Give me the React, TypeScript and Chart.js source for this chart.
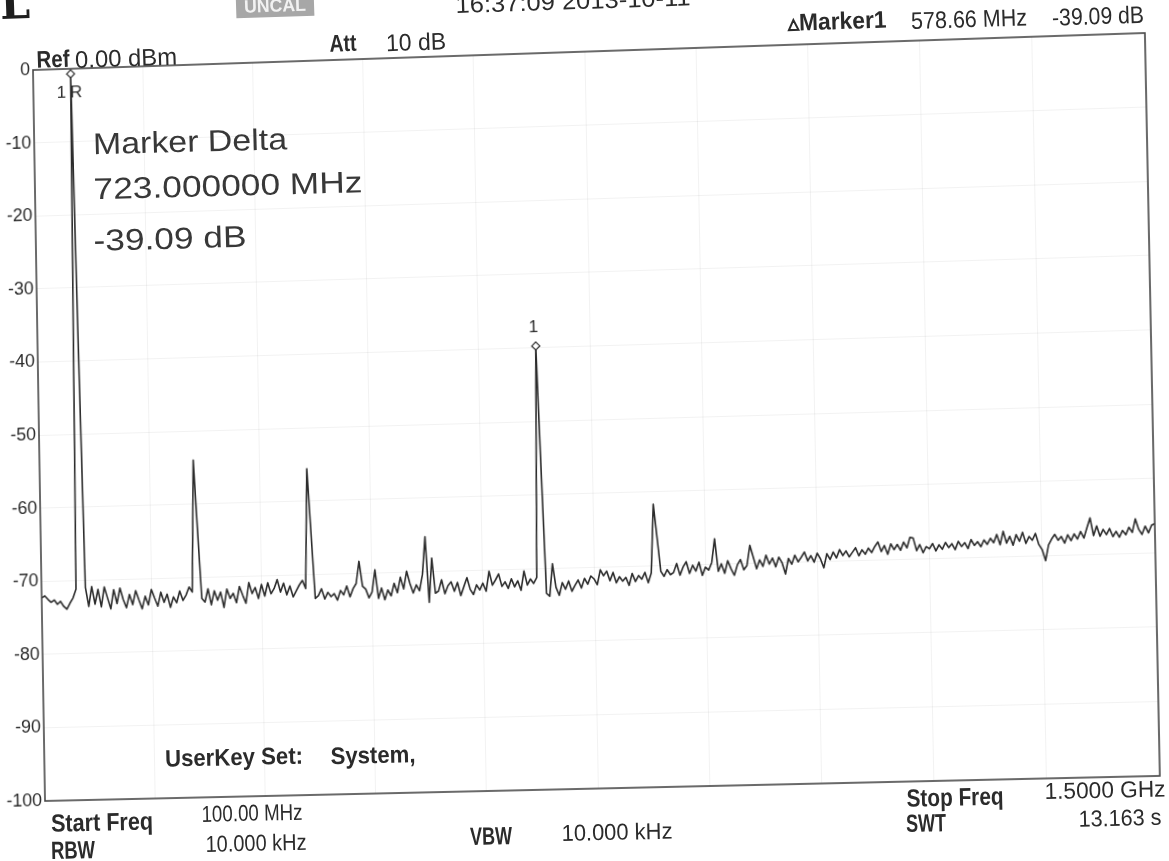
import React, { useEffect, useRef } from 'react';
import { Chart, registerables } from 'chart.js';

Chart.register(...registerables);

// ---- Data ----
const FREQ_START_MHZ = 100;
const FREQ_STOP_MHZ = 1500;
const FREQ_STEP_MHZ = 4;

// Trace level in dBm, one value every 4 MHz from 100 MHz to 1500 MHz
const TRACE_DBM = [
  // 100 – 196 MHz
  -72.3, -72.0, -72.5, -72.9, -72.6, -73.2, -72.8, -73.5, -73.9, -73.1,
  -72.4, -71.2, -0.7, -37.6, -71.0, -73.6, -70.9, -73.3, -71.3, -73.7,
  -71.0, -72.5, -74.0, -71.4, -73.3,
  // 200 – 296 MHz
  -71.2, -72.8, -73.9, -72.1, -73.5, -71.6, -72.9, -74.1, -72.4, -73.6,
  -71.5, -72.7, -73.8, -71.9, -73.3, -72.2, -74.0, -72.6, -73.4, -71.8,
  -73.1, -72.4, -71.3, -72.0, -54.0,
  // 300 – 396 MHz
  -63.6, -72.9, -73.4, -71.6, -73.8, -71.9, -73.2, -72.1, -74.2, -71.7,
  -73.0, -72.3, -73.6, -71.4, -72.6, -73.7, -70.9, -72.4, -71.6, -73.1,
  -71.2, -72.8, -71.0, -72.5, -71.8,
  // 400 – 496 MHz
  -70.6, -72.3, -71.1, -72.7, -71.5, -73.0, -72.2, -71.4, -70.8, -71.9,
  -55.6, -64.5, -73.3, -72.9, -72.0, -73.4, -72.5, -73.1, -72.7, -73.6,
  -72.3, -72.9, -71.7, -73.2, -72.1,
  // 500 – 596 MHz
  -71.4, -68.4, -71.8, -72.2, -73.4, -72.6, -69.6, -73.5, -72.1, -73.7,
  -72.4, -73.2, -71.5, -72.8, -70.7, -72.3, -69.9, -71.6, -72.9, -71.8,
  -72.6, -70.4, -65.3, -74.2, -68.2,
  // 600 – 696 MHz
  -73.0, -72.7, -71.2, -73.1, -72.0, -71.5, -72.8, -71.6, -73.4, -72.2,
  -71.0, -72.6, -73.3, -72.0, -72.7, -71.8, -72.9, -70.2, -72.1, -71.4,
  -70.6, -72.3, -71.7, -72.6, -71.3,
  // 700 – 796 MHz
  -72.4, -71.6, -72.9, -70.3, -72.2, -71.4, -72.0, -71.2, -39.8, -57.0,
  -73.4, -73.8, -69.4, -72.6, -73.7, -72.0, -72.9, -71.8, -73.2, -72.4,
  -71.7, -72.8, -71.5, -72.3, -71.2,
  // 800 – 896 MHz
  -71.6, -72.4, -70.4, -71.2, -70.6, -71.9, -70.8, -72.2, -71.4, -72.0,
  -71.5, -72.6, -71.0, -72.1, -71.3, -71.8, -70.9, -72.3, -71.0, -61.7,
  -66.2, -70.8, -71.5, -70.6, -71.3,
  // 900 – 996 MHz
  -71.0, -69.8, -71.4, -70.3, -69.6, -71.2, -70.1, -70.9, -69.7, -71.5,
  -70.4, -70.8, -69.8, -66.6, -71.0, -70.0, -71.3, -69.6, -70.7, -71.6,
  -70.2, -69.5, -70.9, -70.3, -67.6,
  // 1000 – 1096 MHz
  -69.2, -70.8, -69.6, -70.5, -69.0, -70.2, -69.4, -70.6, -69.3, -70.1,
  -71.6, -69.5, -70.3, -69.1, -70.0, -69.4, -68.7, -69.9, -69.2, -70.1,
  -68.9, -69.7, -70.9, -69.0, -69.8,
  // 1100 – 1196 MHz
  -68.8, -69.6, -68.5, -69.3, -68.7, -69.5, -68.9, -68.3, -69.4, -68.6,
  -69.2, -68.4, -69.0, -68.2, -67.6, -68.9, -68.1, -69.3, -67.9, -68.7,
  -68.0, -68.8, -67.7, -68.5, -67.1,
  // 1200 – 1296 MHz
  -67.2, -68.9, -68.1, -69.2, -68.4, -68.7, -68.0, -69.0, -68.2, -68.8,
  -67.9, -68.6, -68.1, -68.9, -67.8, -68.5, -68.0, -68.8, -67.6, -68.4,
  -67.9, -68.6, -67.7, -68.3, -67.5,
  // 1300 – 1396 MHz
  -68.1, -67.0, -68.4, -66.6, -68.2, -67.3, -68.5, -67.1, -68.0, -66.8,
  -68.3, -67.4, -67.9, -67.0, -68.5, -69.2, -70.7, -68.6, -67.8, -67.2,
  -68.0, -67.5, -68.4, -67.3, -68.1,
  // 1400 – 1500 MHz
  -67.2, -67.9, -66.9, -67.8, -66.4, -65.1, -67.5, -66.2, -67.6, -66.7,
  -67.4, -66.6, -67.7, -67.0, -67.8, -66.9, -67.5, -66.5, -67.2, -65.4,
  -66.8, -67.5, -66.4, -67.3, -66.3, -66.1,
];

// Markers (frequency in MHz) and their names
const MARKER_FREQ_MHZ = [148, 732];
const MARKER_NAMES = ['1R', '1'];

// Axis ticks
const Y_TICKS = [0, -10, -20, -30, -40, -50, -60, -70, -80, -90, -100];
const Y_TICK_LABELS = ['0', '-10', '-20', '-30', '-40', '-50', '-60', '-70', '-80', '-90', '-100'];
const X_GRID_MHZ = [100, 240, 380, 520, 660, 800, 940, 1080, 1220, 1360, 1500];

const MARKER_LEVEL_DBM = MARKER_FREQ_MHZ.map(
  (f) => TRACE_DBM[Math.round((f - FREQ_START_MHZ) / FREQ_STEP_MHZ)]
);

// ---- Layout: the printout was scanned slightly skewed ----
const W = 1169;
const H = 861;
const CW = 1230; // canvas (local, before the skew)
const CH = 900;
const Y_AXIS_W = 40;
const AREA = { left: 70, top: 70, right: 1182, bottom: 806 };
// where the plot frame's corners sit in the scan (TL, TR, BL, BR)
const SCAN_CORNERS: [number, number][] = [
  [33, 70],
  [1145, 33],
  [45, 801],
  [1160, 776],
];

function homography(src: [number, number][], dst: [number, number][]) {
  const A: number[][] = [];
  const b: number[] = [];
  for (let i = 0; i < 4; i++) {
    const [x, y] = src[i];
    const [X, Y] = dst[i];
    A.push([x, y, 1, 0, 0, 0, -x * X, -y * X]);
    b.push(X);
    A.push([0, 0, 0, x, y, 1, -x * Y, -y * Y]);
    b.push(Y);
  }
  const n = 8;
  for (let c = 0; c < n; c++) {
    let p = c;
    for (let r = c + 1; r < n; r++) if (Math.abs(A[r][c]) > Math.abs(A[p][c])) p = r;
    [A[c], A[p]] = [A[p], A[c]];
    [b[c], b[p]] = [b[p], b[c]];
    for (let r = c + 1; r < n; r++) {
      const f = A[r][c] / A[c][c];
      for (let k = c; k < n; k++) A[r][k] -= f * A[c][k];
      b[r] -= f * b[c];
    }
  }
  const h = new Array(n).fill(0);
  for (let r = n - 1; r >= 0; r--) {
    let s = b[r];
    for (let k = r + 1; k < n; k++) s -= A[r][k] * h[k];
    h[r] = s / A[r][r];
  }
  return `matrix3d(${h[0]}, ${h[3]}, 0, ${h[6]}, ${h[1]}, ${h[4]}, 0, ${h[7]}, 0, 0, 1, 0, ${h[2]}, ${h[5]}, 0, 1)`;
}

const SKEW = homography(
  [
    [AREA.left, AREA.top],
    [AREA.right, AREA.top],
    [AREA.left, AREA.bottom],
    [AREA.right, AREA.bottom],
  ],
  SCAN_CORNERS
);

const SANS = '"Liberation Sans", Arial, sans-serif';
const INK = '#2b2b2b';

let measureCtx: CanvasRenderingContext2D | null = null;
function textWidth(text: string, font: string) {
  if (!measureCtx) measureCtx = document.createElement('canvas').getContext('2d');
  if (!measureCtx) return 1;
  measureCtx.font = font;
  return measureCtx.measureText(text).width || 1;
}

type FitProps = {
  x1: number;
  x2: number;
  y: number;
  size: number;
  bold?: boolean;
  angle?: number;
  family?: string;
  color?: string;
  text: string;
};

// text placed by its centre, stretched to the width it has in the printout
function Fit({ x1, x2, y, size, bold, angle = 1.4, family = SANS, color = INK, text }: FitProps) {
  const font = `${bold ? 'bold ' : ''}${size}px ${family}`;
  const s = (x2 - x1) / textWidth(text, font);
  return (
    <div
      style={{
        position: 'absolute',
        left: (x1 + x2) / 2,
        top: y,
        transform: `translate(-50%, -50%) rotate(${-angle}deg) scaleX(${s.toFixed(3)})`,
        fontFamily: family,
        fontSize: size,
        fontWeight: bold ? 700 : 400,
        color,
        whiteSpace: 'nowrap',
        lineHeight: 1.15,
      }}
    >
      {text}
    </div>
  );
}

const framePlugin = {
  id: 'analyserFrame',
  afterDatasetsDraw(chart: any) {
    const { ctx, chartArea: a, scales } = chart;
    ctx.save();
    ctx.strokeStyle = '#474747';
    ctx.lineWidth = 1.6;
    ctx.strokeRect(a.left, a.top, a.right - a.left, a.bottom - a.top);
    ctx.fillStyle = INK;
    ctx.font = '17px ' + SANS;
    ctx.textBaseline = 'middle';
    MARKER_NAMES.forEach((name, i) => {
      const px = scales.x.getPixelForValue(MARKER_FREQ_MHZ[i]);
      const py = scales.y.getPixelForValue(MARKER_LEVEL_DBM[i]);
      if (name.endsWith('R')) {
        ctx.textAlign = 'right';
        ctx.fillText(name.slice(0, -1), px - 5, py + 19);
        ctx.textAlign = 'left';
        ctx.fillText('R', px - 1, py + 19);
      } else {
        ctx.textAlign = 'center';
        ctx.fillText(name, px - 2, py - 19);
      }
    });
    ctx.restore();
  },
};

export default function App() {
  const canvasRef = useRef<HTMLCanvasElement | null>(null);

  useEffect(() => {
    const canvas = canvasRef.current;
    if (!canvas) return;
    const tracePoints = TRACE_DBM.map((v, i) => ({ x: FREQ_START_MHZ + i * FREQ_STEP_MHZ, y: v }));
    const markerPoints = MARKER_FREQ_MHZ.map((f, i) => ({ x: f, y: MARKER_LEVEL_DBM[i] }));
    const chart = new Chart(canvas, {
      type: 'line',
      data: {
        datasets: [
          {
            label: 'Markers',
            data: markerPoints,
            showLine: false,
            pointStyle: 'rectRot',
            pointRadius: 4,
            pointBorderWidth: 1.2,
            pointBackgroundColor: '#ffffff',
            pointBorderColor: INK,
            order: 0,
          },
          {
            label: 'Trace',
            data: tracePoints,
            borderColor: INK,
            borderWidth: 1.6,
            borderJoinStyle: 'round',
            pointRadius: 0,
            tension: 0,
            fill: false,
            order: 1,
          },
        ],
      },
      options: {
        responsive: false,
        animation: false,
        devicePixelRatio: 1,
        layout: {
          padding: {
            left: AREA.left - Y_AXIS_W,
            top: AREA.top,
            right: CW - AREA.right,
            bottom: CH - AREA.bottom,
          },
        },
        plugins: { legend: { display: false }, tooltip: { enabled: false } },
        scales: {
          x: {
            type: 'linear',
            min: FREQ_START_MHZ,
            max: FREQ_STOP_MHZ,
            afterBuildTicks: (s: any) => {
              s.ticks = X_GRID_MHZ.map((v) => ({ value: v }));
            },
            afterFit: (s: any) => {
              s.height = 0;
            },
            ticks: { display: false },
            grid: { color: 'rgba(0,0,0,0.05)', drawTicks: false },
            border: { display: false },
          },
          y: {
            type: 'linear',
            min: -100,
            max: 0,
            afterBuildTicks: (s: any) => {
              s.ticks = Y_TICKS.map((v) => ({ value: v }));
            },
            afterFit: (s: any) => {
              s.width = Y_AXIS_W;
            },
            ticks: {
              crossAlign: 'near',
              padding: 3,
              color: INK,
              font: { family: SANS, size: 18 },
              callback: (v: any) => {
                const idx = Y_TICKS.indexOf(Number(v));
                return idx >= 0 ? Y_TICK_LABELS[idx] : '';
              },
            },
            grid: { color: 'rgba(0,0,0,0.05)', drawTicks: false },
            border: { display: false },
          },
        },
      },
      plugins: [framePlugin],
    } as any);
    return () => chart.destroy();
  }, []);

  return (
    <div
      style={{
        position: 'fixed',
        left: 0,
        top: 0,
        width: W,
        height: H,
        overflow: 'hidden',
        background: '#ffffff',
      }}
    >
      <canvas
        ref={canvasRef}
        width={CW}
        height={CH}
        style={{
          position: 'absolute',
          left: 0,
          top: 0,
          width: CW,
          height: CH,
          transformOrigin: '0 0',
          transform: SKEW,
        }}
      />

      {/* scan header remnants */}
      <Fit x1={0} x2={30} y={2} size={48} bold family={'"DejaVu Serif", serif'} angle={1.9} color="#1e1e1e" text="L" />
      <div
        style={{
          position: 'absolute',
          left: 236,
          top: -9,
          width: 78,
          height: 26,
          background: '#a7a7a7',
          transform: 'rotate(-1.9deg)',
        }}
      />
      <Fit x1={244} x2={306} y={6} size={18} bold angle={1.9} color="#f2f2f2" text="UNCAL" />
      <Fit x1={455} x2={690} y={1} size={24} angle={1.9} text="16:37:09 2013-10-11" />

      {/* header row */}
      <Fit x1={36} x2={69} y={59} size={24} bold angle={1.9} text="Ref" />
      <Fit x1={75} x2={177} y={58} size={24} angle={1.9} text="0.00 dBm" />
      <Fit x1={329} x2={356} y={43} size={24} bold angle={1.9} text="Att" />
      <Fit x1={386} x2={446} y={42} size={24} angle={1.9} text="10 dB" />
      <Fit x1={787} x2={886} y={21} size={24} bold angle={1.9} text="▵Marker1" />
      <Fit x1={911} x2={1027} y={19} size={24} angle={1.9} text="578.66 MHz" />
      <Fit x1={1052} x2={1144} y={16} size={24} angle={1.9} text="-39.09 dB" />

      {/* marker delta readout */}
      <Fit x1={93} x2={287} y={142} size={30} angle={1.5} color="#383838" text="Marker Delta" />
      <Fit x1={93} x2={362} y={186} size={30} angle={1.5} color="#383838" text="723.000000 MHz" />
      <Fit x1={93} x2={246} y={239} size={30} angle={1.5} color="#383838" text="-39.09 dB" />

      {/* in-plot footer */}
      <Fit x1={165} x2={303} y={757} size={24} bold angle={1.25} text="UserKey Set:" />
      <Fit x1={330} x2={415} y={755} size={24} bold angle={1.25} text="System," />

      {/* settings below the plot */}
      <Fit x1={51} x2={153} y={822} size={25} bold angle={1.25} text="Start Freq" />
      <Fit x1={201} x2={302} y={813} size={23} angle={1.25} text="100.00 MHz" />
      <Fit x1={51} x2={95} y={850} size={25} bold angle={1.25} text="RBW" />
      <Fit x1={205} x2={306} y={843} size={23} angle={1.25} text="10.000 kHz" />
      <Fit x1={470} x2={512} y={836} size={25} bold angle={1.25} text="VBW" />
      <Fit x1={561} x2={672} y={832} size={23} angle={1.25} text="10.000 kHz" />
      <Fit x1={906} x2={1003} y={797} size={25} bold angle={1.25} text="Stop Freq" />
      <Fit x1={1044} x2={1165} y={790} size={23} angle={1.25} text="1.5000 GHz" />
      <Fit x1={906} x2={946} y={823} size={25} bold angle={1.25} text="SWT" />
      <Fit x1={1078} x2={1161} y={818} size={23} angle={1.25} text="13.163 s" />
    </div>
  );
}
